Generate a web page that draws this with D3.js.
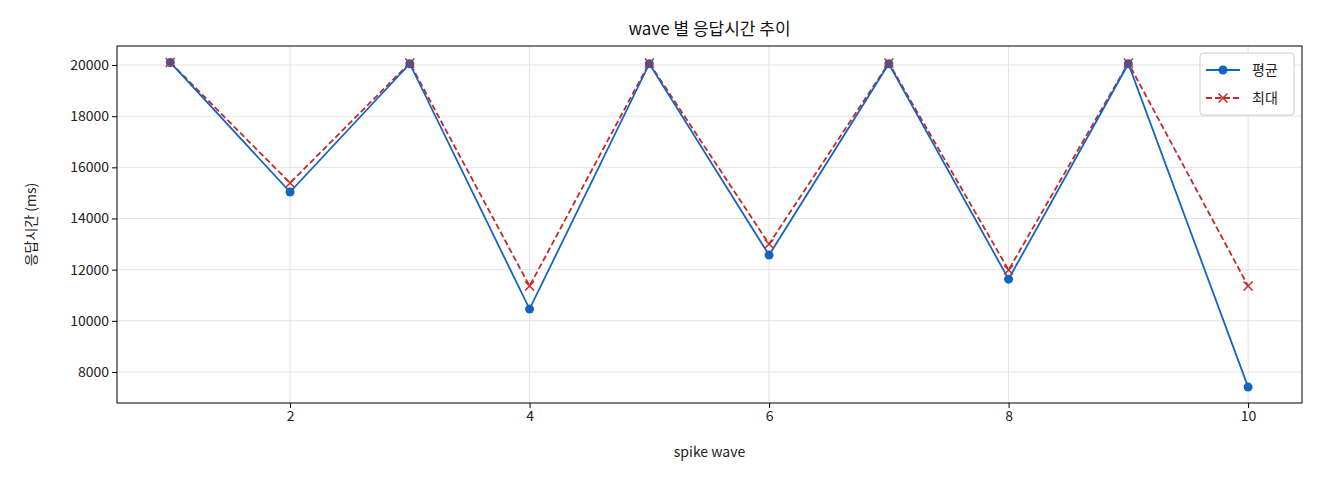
<!DOCTYPE html><html><head><meta charset="utf-8"><script src="https://cdn.jsdelivr.net/npm/d3@7"></script>
<style>body{margin:0;background:#fff}text{font-family:"Noto Sans CJK KR","DejaVu Sans",sans-serif}</style></head><body>
<svg id="c" width="1320" height="480"></svg>
<script>
const waves=[1,2,3,4,5,6,7,8,9,10];
const avgValues=[20100,15035,20050,10460,20050,12570,20050,11630,20050,7410];
const maxValues=[20100,15390,20080,11360,20080,13000,20080,11990,20080,11360];
const xTicks=[2,4,6,8,10];
const yTicks=[8000,10000,12000,14000,16000,18000,20000];
const svg=d3.select("#c");
const L=117,R=1302,T=46,B=403;
const x=d3.scaleLinear().domain([0.555,10.45]).range([L,R]);
const y=d3.scaleLinear().domain([6788,20743]).range([B,T]);
const g=svg.append("g");
g.selectAll(".gx").data(xTicks).join("line").attr("x1",d=>x(d)).attr("x2",d=>x(d)).attr("y1",T).attr("y2",B).attr("stroke","#e3e3e3");
g.selectAll(".gy").data(yTicks).join("line").attr("x1",L).attr("x2",R).attr("y1",d=>y(d)).attr("y2",d=>y(d)).attr("stroke","#e3e3e3");
const ax=svg.append("g").attr("transform",`translate(0,${B})`).call(d3.axisBottom(x).tickValues(xTicks).tickSize(5).tickFormat(d3.format("d")));
const ay=svg.append("g").attr("transform",`translate(${L},0)`).call(d3.axisLeft(y).tickValues(yTicks).tickSize(5).tickFormat(d3.format("d")));
[ax,ay].forEach(a=>{a.select(".domain").remove();a.selectAll("text").attr("font-size",14).attr("fill","#222");});
svg.append("rect").attr("x",L).attr("y",T).attr("width",R-L).attr("height",B-T).attr("fill","none").attr("stroke","#000");
const line=d3.line().x((d,i)=>x(waves[i])).y(d=>y(d));
svg.append("path").datum(maxValues).attr("d",line).attr("fill","none").attr("stroke","#c62828").attr("stroke-width",1.8).attr("stroke-dasharray","6,3");
svg.append("path").datum(avgValues).attr("d",line).attr("fill","none").attr("stroke","#1565c0").attr("stroke-width",1.8);
svg.selectAll(".dot").data(avgValues).join("circle").attr("cx",(d,i)=>x(waves[i])).attr("cy",d=>y(d)).attr("r",4.5).attr("fill","#1565c0");
const cross=(sel,cx,cy)=>sel.append("path").attr("d",`M${cx-4.5},${cy-4.5}L${cx+4.5},${cy+4.5}M${cx-4.5},${cy+4.5}L${cx+4.5},${cy-4.5}`).attr("stroke","#c62828").attr("stroke-width",1.5);
maxValues.forEach((d,i)=>cross(svg,x(waves[i]),y(d)));
svg.append("text").attr("x",(L+R)/2).attr("y",35).attr("text-anchor","middle").attr("font-size",17).attr("fill","#111").text("wave 별 응답시간 추이");
svg.append("text").attr("x",(L+R)/2).attr("y",457).attr("text-anchor","middle").attr("font-size",14).attr("fill","#222").text("spike wave");
svg.append("text").attr("transform",`translate(36,${(T+B)/2}) rotate(-90)`).attr("text-anchor","middle").attr("font-size",14).attr("fill","#222").text("응답시간 (ms)");
const lg=svg.append("g");
lg.append("rect").attr("x",1200).attr("y",53).attr("width",94).attr("height",62).attr("rx",3).attr("fill","#fff").attr("stroke","#ccc");
lg.append("line").attr("x1",1206).attr("x2",1240).attr("y1",70).attr("y2",70).attr("stroke","#1565c0").attr("stroke-width",1.8);
lg.append("circle").attr("cx",1223).attr("cy",70).attr("r",4.5).attr("fill","#1565c0");
lg.append("text").attr("x",1252).attr("y",75).attr("font-size",14).attr("fill","#222").text("평균");
lg.append("line").attr("x1",1206).attr("x2",1240).attr("y1",98).attr("y2",98).attr("stroke","#c62828").attr("stroke-width",1.8).attr("stroke-dasharray","6,3");
cross(lg,1223,98);
lg.append("text").attr("x",1252).attr("y",103).attr("font-size",14).attr("fill","#222").text("최대");
</script></body></html>
